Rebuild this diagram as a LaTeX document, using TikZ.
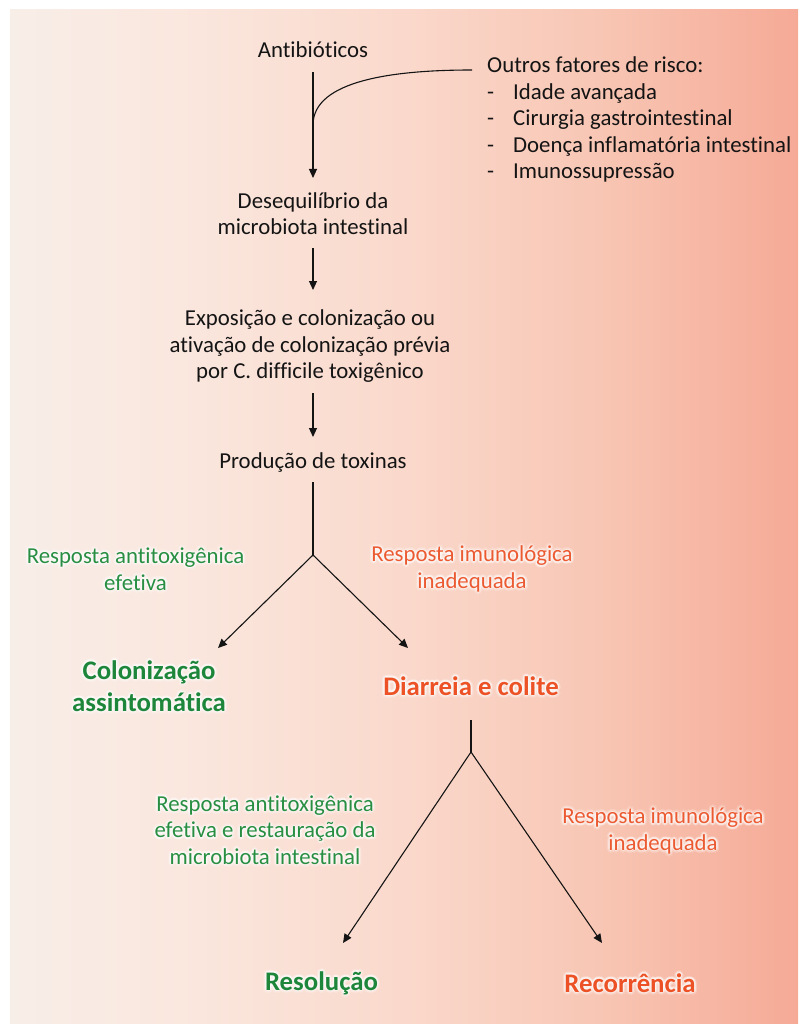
\documentclass[tikz,border=0pt]{standalone}
\usepackage{fontspec}
\setmainfont{Carlito}[Ligatures=NoCommon]
\usetikzlibrary{arrows.meta,calc}

\definecolor{ink}{RGB}{20,20,20}
\definecolor{grn}{RGB}{40,142,66}
\definecolor{grnB}{RGB}{30,134,58}
\definecolor{org}{RGB}{236,90,50}
\definecolor{orgB}{RGB}{236,82,38}
\definecolor{bg0}{RGB}{248,238,232}
\definecolor{bg1}{RGB}{250,230,221}
\definecolor{bg2}{RGB}{250,217,204}
\definecolor{bg3}{RGB}{248,198,180}
\definecolor{bg4}{RGB}{245,170,150}

% panel fill: light on the left, salmon on the right (path spans 25bp..75bp)
\pgfdeclarehorizontalshading{panelshade}{100bp}{color(0bp)=(bg0); color(25bp)=(bg0);
  color(37bp)=(bg1); color(49.7bp)=(bg2); color(62.4bp)=(bg3); color(75bp)=(bg4); color(100bp)=(bg4)}

% coloured text with a soft white halo behind it
\newcommand\glowlabel[4]{%
  \foreach \ang in {0,45,...,315}{%
    \node[#2,text=white,text opacity=0.18] (#1-o\ang) at ($(#3)+(\ang:3pt)$) {#4};
    \node[#2,text=white,text opacity=0.30] (#1-i\ang) at ($(#3)+(\ang+22.5:1.5pt)$) {#4};}
  \node[#2] (#1) at (#3) {#4};}

\begin{document}
\begin{tikzpicture}[x=1pt,y=-1pt,
  txt/.style={font=\fontsize{22.8}{26.5}\selectfont, text=ink, align=center, inner sep=0pt},
  gtxt/.style={txt, text=grn},
  otxt/.style={txt, text=org},
  gbold/.style={font=\fontsize{26.8}{32}\selectfont\bfseries, text=grnB, align=center, inner sep=0pt},
  obold/.style={gbold, text=orgB},
  flow/.style={draw=ink, line width=1.1pt},
  arr/.style={flow, -{Triangle[length=9pt,width=8pt]}}]
\useasboundingbox (0,0) rectangle (798,1024);
\shade[shading=panelshade] (10,10) rectangle (798,1024);

% main chain
\node[txt] (antib) at (313,50) {Antibióticos};
\node[txt, align=left, anchor=west] (risk) at (487,119.5)
  {Outros fatores de risco:\\
   \makebox[26pt][l]{-}Idade avançada\\
   \makebox[26pt][l]{-}Cirurgia gastrointestinal\\
   \makebox[26pt][l]{-}Doença inflamatória intestinal\\
   \makebox[26pt][l]{-}Imunossupressão};
\node[txt] (deseq) at (313,213.5) {Desequilíbrio da\\microbiota intestinal};
\node[txt] (expo) at (310,346.5) {Exposição e colonização ou\\ativação de colonização prévia\\por C. difficile toxigênico};
\node[txt] (prod) at (313,462) {Produção de toxinas};

% outcomes and branch labels
\glowlabel{resp1}{gtxt}{135.5,569}{Resposta antitoxigênica\\efetiva}
\glowlabel{resp2}{otxt}{472,569}{Resposta imunológica\\inadequada}
\glowlabel{colon}{gbold}{149,686}{Colonização\\assintomática}
\glowlabel{diar}{obold}{471,686}{Diarreia e colite}
\glowlabel{resp3}{gtxt}{265,830}{Resposta antitoxigênica\\efetiva e restauração da\\microbiota intestinal}
\glowlabel{resp4}{otxt}{663,831}{Resposta imunológica\\inadequada}
\glowlabel{resol}{gbold}{321.5,983}{Resolução}
\glowlabel{recor}{obold}{630,983}{Recorrência}

% junctions and arrow tips of the branches
\coordinate (j1) at (313,555);
\coordinate (t1) at (218,648);
\coordinate (t2) at (408,648);
\coordinate (j2) at (471,752);
\coordinate (t3) at (343,943);
\coordinate (t4) at (602,943);
\coordinate (m1) at (313,125);

% connectors
\draw[arr] ($(antib.center)+(0,22)$) -- ($(deseq.center)+(0,-35.5)$);
\draw[flow] ($(risk.west)+(-15,-49.5)$) .. controls (395,70) and (313,80) .. (m1);
\draw[arr] ($(deseq.center)+(0,34.5)$) -- ($(expo.center)+(3,-56.5)$);
\draw[arr] ($(expo.center)+(3,46.5)$) -- ($(prod.center)+(0,-25)$);
\draw[flow] ($(prod.center)+(0,20)$) -- (j1);
\draw[arr] (j1) -- (t1);
\draw[arr] (j1) -- (t2);
\draw[flow] ($(diar.center)+(0,34)$) -- (j2);
\draw[arr] (j2) -- (t3);
\draw[arr] (j2) -- (t4);
\end{tikzpicture}
\end{document}
